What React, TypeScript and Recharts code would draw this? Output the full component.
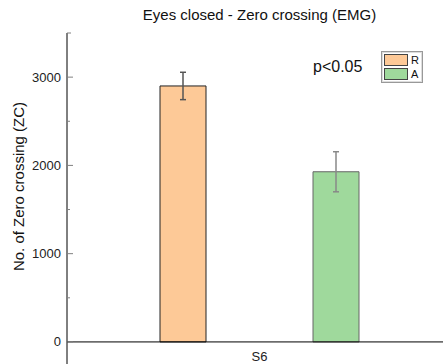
import React from 'react';
import { BarChart, Bar, XAxis, YAxis, ErrorBar, ReferenceLine, Legend } from 'recharts';

// values
const categories = ['S6'];
const restValues = [2900];
const restErrors = [155];
const activeValues = [1928];
const activeErrors = [227];
const seriesNames = ['R', 'A'];
const seriesColors = ['#FDC997', '#9FD99C'];
const yTicks = [0, 500, 1000, 1500, 2000, 2500, 3000, 3500];
const labelledTicks = [0, 1000, 2000, 3000];
const yDomain = [-250, 3500];
const title = 'Eyes closed - Zero crossing (EMG)';
const yLabel = 'No. of Zero crossing (ZC)';
const pText = 'p<0.05';

const data = categories.map((name, i) => ({
  name,
  R: restValues[i],
  Rerr: restErrors[i],
  A: activeValues[i],
  Aerr: activeErrors[i],
}));

const FONT = '"Liberation Sans", Arial, sans-serif';

const YTick = (props: any) => {
  const { x, y, payload } = props;
  const v = payload.value;
  const major = labelledTicks.includes(v);
  const len = major ? 6 : v === 3500 ? 4 : 3;
  return (
    <g>
      <line x1={x} x2={x + len} y1={y} y2={y} stroke="#808080" />
      {major && (
        <text x={x - 6} y={y} textAnchor="end" dominantBaseline="central" fontSize={13} fill="#222" fontFamily={FONT}>
          {v}
        </text>
      )}
    </g>
  );
};

const YLabel = (props: any) => {
  const { viewBox } = props;
  const cx = viewBox.x + 18;
  const cy = viewBox.y + viewBox.height / 2 - 12;
  return (
    <text
      x={cx}
      y={cy}
      transform={`rotate(-90, ${cx}, ${cy})`}
      textAnchor="middle"
      dominantBaseline="central"
      fontSize={15}
      fill="#111"
      fontFamily={FONT}
    >
      {yLabel}
    </text>
  );
};

const LegendBox = () => (
  <div
    style={{
      border: '1px solid #999',
      boxShadow: 'inset 0 0 0 1px #ddd',
      background: '#fff',
      padding: '2px 2px 2px 2px',
      fontFamily: FONT,
      fontSize: 11,
      lineHeight: '11px',
      width: 36,
    }}
  >
    {seriesNames.map((n, i) => (
      <div key={n} style={{ display: 'flex', alignItems: 'center', marginBottom: i === 0 ? 2 : 0 }}>
        <span style={{ width: 22, height: 10, background: seriesColors[i], border: '1px solid #444', display: 'inline-block' }} />
        <span style={{ marginLeft: 3, color: '#111' }}>{n}</span>
      </div>
    ))}
  </div>
);

export default function App() {
  return (
    <div style={{ position: 'absolute', left: 0, top: 0, width: 443, height: 364, overflow: 'hidden', background: '#fff', fontFamily: FONT }}>
      <div style={{ position: 'absolute', left: 67, top: 6, width: 385, textAlign: 'center', fontSize: 15, lineHeight: '17px', color: '#111' }}>
        {title}
      </div>
      <div style={{ position: 'absolute', left: 313, top: 58, fontSize: 16, lineHeight: '18px', color: '#111' }}>{pText}</div>
      <BarChart width={452} height={364} data={data} margin={{ top: 33, right: 0, left: 0, bottom: 0 }} barGap={107}>
        <XAxis dataKey="name" hide />
        <YAxis
          type="number"
          domain={yDomain}
          ticks={yTicks}
          width={67}
          tickSize={0}
          tickMargin={0}
          tickLine={false}
          axisLine={{ stroke: '#000' }}
          tick={<YTick />}
          interval={0}
          label={(p: any) => <YLabel {...p} />}
        />
        <ReferenceLine
          y={0}
          stroke="#000"
          label={{ value: categories[0], position: 'bottom', offset: 10, fontSize: 13, fill: '#222', fontFamily: FONT }}
        />
        <Legend
          layout="vertical"
          align="center"
          verticalAlign="middle"
          content={<LegendBox />}
          wrapperStyle={{ position: 'absolute', left: 381, top: 51, width: 'auto' }}
        />
        <Bar dataKey="R" fill={seriesColors[0]} stroke="#222" barSize={46} isAnimationActive={false}>
          <ErrorBar dataKey="Rerr" width={3} stroke="#555" direction="y" isAnimationActive={false} />
        </Bar>
        <Bar dataKey="A" fill={seriesColors[1]} stroke="#666" barSize={46} isAnimationActive={false}>
          <ErrorBar dataKey="Aerr" width={3} stroke="#888" direction="y" isAnimationActive={false} />
        </Bar>
      </BarChart>
    </div>
  );
}
